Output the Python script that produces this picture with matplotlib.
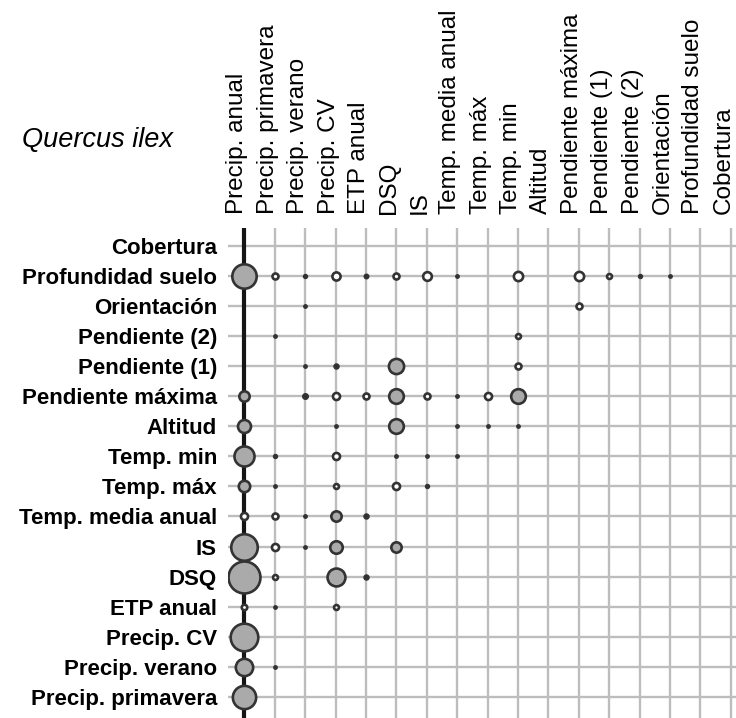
import numpy as np
import matplotlib
matplotlib.use("Agg")
import matplotlib.pyplot as plt
import matplotlib.transforms as mtransforms

# === variables (columns left -> right) ===
col_labels = ["Precip. anual", "Precip. primavera", "Precip. verano", "Precip. CV",
              "ETP anual", "DSQ", "IS", "Temp. media anual", "Temp. máx", "Temp. min",
              "Altitud", "Pendiente máxima", "Pendiente (1)", "Pendiente (2)",
              "Orientación", "Profundidad suelo", "Cobertura"]

# rows, top -> bottom
row_labels = ["Cobertura", "Profundidad suelo", "Orientación", "Pendiente (2)",
              "Pendiente (1)", "Pendiente máxima", "Altitud", "Temp. min", "Temp. máx",
              "Temp. media anual", "IS", "DSQ", "ETP anual", "Precip. CV",
              "Precip. verano", "Precip. primavera"]

# interaction strength per row (0 = nothing drawn), one value per column
cobertura      = [0] * 17
profundidad    = [25, 8, 5, 10, 5.5, 8, 10.5, 3, 0, 11, 0, 11, 7, 5, 3, 0, 0]
orientacion    = [0, 0, 3, 0, 0, 0, 0, 0, 0, 0, 0, 8, 0, 0, 0, 0, 0]
pendiente_2    = [0, 2.5, 0, 0, 0, 0, 0, 0, 0, 7, 0, 0, 0, 0, 0, 0, 0]
pendiente_1    = [0, 0, 4, 6, 0, 16.5, 0, 0, 0, 8, 0, 0, 0, 0, 0, 0, 0]
pendiente_max  = [12, 0, 6.5, 9, 8, 16, 8, 3, 9, 16, 0, 0, 0, 0, 0, 0, 0]
altitud        = [14.5, 0, 0, 3, 0, 16, 0, 3, 2.5, 4, 0, 0, 0, 0, 0, 0, 0]
temp_min       = [21, 5, 0, 9, 0, 3.5, 4, 3, 0, 0, 0, 0, 0, 0, 0, 0, 0]
temp_max       = [13, 2.5, 0, 7, 0, 9, 5, 0, 0, 0, 0, 0, 0, 0, 0, 0, 0]
temp_media     = [9, 8, 3, 12, 6, 0, 0, 0, 0, 0, 0, 0, 0, 0, 0, 0, 0]
is_row         = [27, 9, 3, 14, 0, 12, 0, 0, 0, 0, 0, 0, 0, 0, 0, 0, 0]
dsq            = [32, 7, 0, 19, 6, 0, 0, 0, 0, 0, 0, 0, 0, 0, 0, 0, 0]
etp_anual      = [7.5, 2.5, 0, 7, 0, 0, 0, 0, 0, 0, 0, 0, 0, 0, 0, 0, 0]
precip_cv      = [28] + [0] * 16
precip_verano  = [18.5, 3] + [0] * 15
precip_prim    = [24] + [0] * 16

values = np.array([cobertura, profundidad, orientacion, pendiente_2, pendiente_1,
                   pendiente_max, altitud, temp_min, temp_max, temp_media, is_row,
                   dsq, etp_anual, precip_cv, precip_verano, precip_prim], dtype=float)

plt.rcParams["font.family"] = ["Liberation Sans", "DejaVu Sans"]

fig = plt.figure(figsize=(7.36, 7.18), dpi=100)
ax = fig.add_axes([228 / 736, 0, (736 - 228) / 736, (718 - 228) / 718])

n_cols = len(col_labels)
n_rows = len(row_labels)
xs = np.arange(n_cols)
ys = np.arange(n_rows)[::-1]  # first row on top

xlim = (-0.536, 16.17)
ylim = (-0.698, 15.588)
ax.set_xlim(*xlim)
ax.set_ylim(*ylim)

# grid
ax.vlines(xs[1:], *ylim, color="#bdbdbd", lw=1.7, zorder=1)
ax.hlines(ys, *xlim, color="#bdbdbd", lw=1.7, zorder=1)
ax.vlines(xs[0], *ylim, color="#151515", lw=3.0, zorder=2)

# bubbles: diameter in px -> marker area in pt^2
lw = 1.9
for i, y in enumerate(ys):
    for j, x in enumerate(xs):
        d = values[i, j]
        if d <= 0:
            continue
        core = max(d * 1.08 * 0.72 - lw, 1.6)
        if d <= 6.5:
            face = "#2a2a2a"
        elif d < 11.5:
            face = "white"
        else:
            face = "#aaaaaa"
        ax.scatter(x, y, s=core ** 2, facecolor=face, edgecolor="#333333",
                   linewidth=lw, zorder=3)

ax.set_yticks(ys)
ax.set_yticklabels(row_labels, fontsize=16, fontweight="bold")
ax.xaxis.tick_top()
ax.set_xticks(xs)
ax.set_xticklabels(col_labels, fontsize=17.5, rotation=90)
ax.tick_params(axis="y", length=0, pad=8)
ax.tick_params(axis="x", length=0, pad=10)
for s in ax.spines.values():
    s.set_visible(False)

# column names sit a little left of their grid lines
shift = mtransforms.ScaledTranslation(-0.07, 0, fig.dpi_scale_trans)
for lab in ax.get_xticklabels():
    lab.set_transform(lab.get_transform() + shift)

fig.text(22 / 736, 1 - 147 / 718, "Quercus ilex", fontsize=19.5, style="italic",
         ha="left", va="baseline")

fig.savefig("out.png", dpi=100)
